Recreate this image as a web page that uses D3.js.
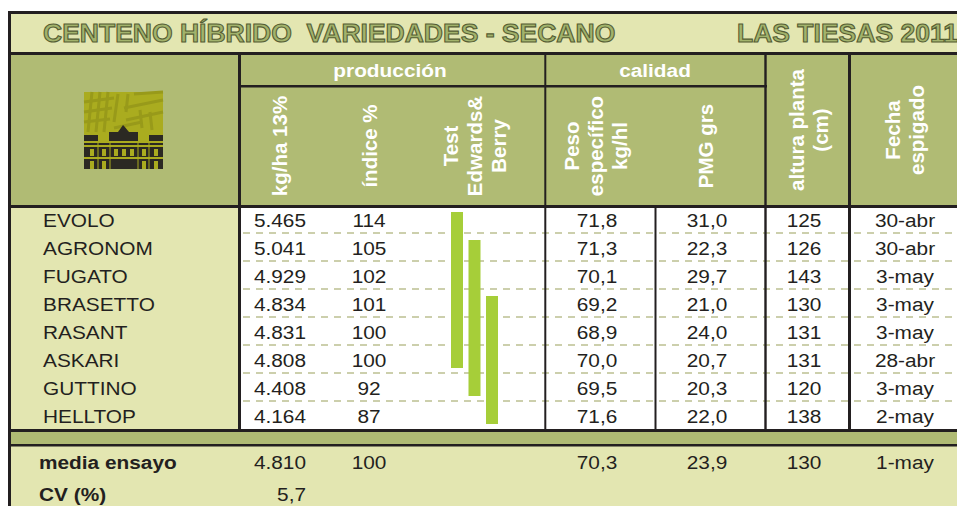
<!DOCTYPE html>
<html>
<head>
<meta charset="utf-8">
<script src="https://cdn.jsdelivr.net/npm/d3@7"></script>
<style>
  body { margin: 0; background: #ffffff; }
  text { font-family: "Liberation Sans", Arial, sans-serif; }
</style>
</head>
<body>
<div id="tabla"></div>
<script>
var width = 957;
var height = 506;

// datos del ensayo
var variedades = ["EVOLO", "AGRONOM", "FUGATO", "BRASETTO", "RASANT", "ASKARI", "GUTTINO", "HELLTOP"];
var kgha     = [5465, 5041, 4929, 4834, 4831, 4808, 4408, 4164];
var indice   = [114, 105, 102, 101, 100, 100, 92, 87];
var grupos   = ["a", "ab", "ab", "abc", "abc", "abc", "bc", "c"];   // test Edwards & Berry
var peso     = [71.8, 71.3, 70.1, 69.2, 68.9, 70.0, 69.5, 71.6];
var pmg      = [31.0, 22.3, 29.7, 21.0, 24.0, 20.7, 20.3, 22.0];
var altura   = [125, 126, 143, 130, 131, 131, 120, 138];
var fecha    = ["30-abr", "30-abr", "3-may", "3-may", "3-may", "28-abr", "3-may", "2-may"];
var letras   = ["a", "b", "c"];
var mediaEnsayo = [4810, 100, 70.3, 23.9, 130, "1-may"];
var cv = 5.7;

var es = d3.formatLocale({decimal: ",", thousands: ".", grouping: [3], currency: ["", "€"]});
var fMil = es.format(",d");
var fDec = es.format(".1f");

var svg = d3.select("#tabla")
  .append("svg")
    .attr("width", width)
    .attr("height", height);

var oscuro = "#231f20";
var crema = "#e3e6b1";
var oliva = "#b0bb74";

// filas
var y = d3.scaleBand().domain(d3.range(variedades.length)).range([205, 429]);
var xGrupo = d3.scaleBand().domain(letras).range([451, 503.5]);

var SX = 1.12; // el texto original viene algo estirado

// fondos
svg.append("rect").attr("x", 11).attr("y", 14).attr("width", 946).attr("height", 38).attr("fill", crema);
svg.append("rect").attr("x", 11).attr("y", 55).attr("width", 946).attr("height", 150).attr("fill", oliva);
svg.append("rect").attr("x", 11).attr("y", 208).attr("width", 227).attr("height", 221).attr("fill", crema);
svg.append("rect").attr("x", 11).attr("y", 432).attr("width", 946).attr("height", 12).attr("fill", oliva);
svg.append("rect").attr("x", 11).attr("y", 446).attr("width", 946).attr("height", 60).attr("fill", crema);

// lineas discontinuas entre filas
svg.selectAll("line.dash")
  .data(d3.range(variedades.length - 1))
  .enter()
  .append("line")
    .attr("x1", 243).attr("x2", width)
    .attr("y1", function(d) { return y(d) + y.bandwidth(); })
    .attr("y2", function(d) { return y(d) + y.bandwidth(); })
    .attr("stroke", "#bcc091")
    .attr("stroke-width", 1.6)
    .attr("stroke-dasharray", "7,6");

// barras del test Edwards & Berry
var tramos = letras.map(function(l) {
  var filas = d3.range(grupos.length).filter(function(i) { return grupos[i].indexOf(l) >= 0; });
  return {letra: l, ini: d3.min(filas), fin: d3.max(filas)};
});
svg.selectAll("rect.grupo")
  .data(tramos)
  .enter()
  .append("rect")
    .attr("x", function(d) { return xGrupo(d.letra); })
    .attr("y", function(d) { return y(d.ini) + 7; })
    .attr("width", 12)
    .attr("height", function(d) { return y(d.fin) + y.bandwidth() - 5 - (y(d.ini) + 7); })
    .attr("fill", "#a6ce39");

// marco y lineas
function linea(x1, y1, x2, y2, w) {
  svg.append("line").attr("x1", x1).attr("y1", y1).attr("x2", x2).attr("y2", y2)
    .attr("stroke", oscuro).attr("stroke-width", w);
}
linea(8, 12.5, width, 12.5, 3);
linea(9.5, 11, 9.5, height, 3);
linea(8, 53.5, width, 53.5, 3);
linea(8, 206.5, width, 206.5, 3);
linea(8, 430.5, width, 430.5, 3);
linea(8, 445.3, width, 445.3, 2.6);
linea(239.5, 52, 239.5, 432, 3);
linea(545.3, 55, 545.3, 430, 2);
linea(655.5, 207, 655.5, 430, 2);
linea(765.5, 55, 765.5, 430, 2.4);
linea(849.5, 52, 849.5, 432, 3);
linea(241, 86.2, 767, 86.2, 2.6);

// titulo
svg.append("text")
  .attr("x", 43).attr("y", 42)
  .style("white-space", "pre")
  .attr("font-size", 26.5).attr("font-weight", "bold")
  .attr("fill", "#a2b36c").attr("stroke", "#555d33").attr("stroke-width", 1.1)
  .text("CENTENO HÍBRIDO  VARIEDADES - SECANO");
svg.append("text")
  .attr("x", 737).attr("y", 42)
  .attr("font-size", 26.5).attr("font-weight", "bold")
  .attr("fill", "#a2b36c").attr("stroke", "#555d33").attr("stroke-width", 1.1)
  .text("LAS TIESAS 2011");

// logo (aproximado)
var logo = svg.append("g").attr("transform", "translate(84,92)");
logo.append("rect").attr("width", 79).attr("height", 77).attr("fill", "#aaac1f");
var rayas = [[8, 0, 4, 40], [16, 0, 12, 40], [24, 0, 20, 40], [34, 2, 30, 30], [44, 2, 42, 20],
             [0, 10, 30, 6], [0, 20, 28, 16], [0, 30, 26, 27], [40, 16, 79, 8], [42, 28, 79, 20],
             [50, 2, 79, 0], [58, 36, 56, 18], [68, 38, 66, 20], [30, 36, 58, 30]];
logo.selectAll("line").data(rayas).enter().append("line")
  .attr("x1", function(d) { return d[0]; }).attr("y1", function(d) { return d[1]; })
  .attr("x2", function(d) { return d[2]; }).attr("y2", function(d) { return d[3]; })
  .attr("stroke", "#989a1a").attr("stroke-width", 3);
var edif = "#2b2923";
logo.append("rect").attr("x", 0).attr("y", 43).attr("width", 14).attr("height", 6).attr("fill", edif);
logo.append("rect").attr("x", 65).attr("y", 43).attr("width", 14).attr("height", 6).attr("fill", edif);
logo.append("rect").attr("x", 25).attr("y", 40).attr("width", 29).attr("height", 9).attr("fill", edif);
logo.append("path").attr("d", "M34,40 L39,33 L40,34 L45,40 Z").attr("fill", edif);
logo.append("rect").attr("x", 0).attr("y", 51).attr("width", 79).attr("height", 2).attr("fill", edif);
logo.append("rect").attr("x", 0).attr("y", 55).attr("width", 79).attr("height", 10).attr("fill", edif);
logo.append("rect").attr("x", 0).attr("y", 67).attr("width", 79).attr("height", 10).attr("fill", edif);
logo.selectAll("rect.ventana").data([6, 18, 30, 38, 46, 58, 70]).enter().append("rect")
  .attr("x", function(d) { return d; }).attr("y", 57).attr("width", 4).attr("height", 7).attr("fill", "#aaac1f");
logo.selectAll("rect.ventana2").data([6, 18, 58, 70]).enter().append("rect")
  .attr("x", function(d) { return d; }).attr("y", 69).attr("width", 4).attr("height", 8).attr("fill", "#aaac1f");
logo.selectAll("line.col").data([14, 26, 54, 65]).enter().append("line")
  .attr("x1", function(d) { return d; }).attr("x2", function(d) { return d; })
  .attr("y1", 49).attr("y2", 77).attr("stroke", "#aaac1f").attr("stroke-width", 1);

// cabecera: grupos
function textoH(x, yy, txt, opts) {
  opts = opts || {};
  return svg.append("text")
    .attr("transform", "translate(" + x + "," + yy + ") scale(" + SX + ",1)")
    .attr("text-anchor", opts.anchor || "start")
    .attr("font-size", opts.size || 18.6)
    .attr("font-weight", opts.bold ? "bold" : "normal")
    .attr("fill", opts.color || oscuro)
    .text(txt);
}
textoH(390, 77, "producción", {anchor: "middle", bold: true, color: "#ffffff"});
textoH(655, 77, "calidad", {anchor: "middle", bold: true, color: "#ffffff"});

// cabecera: columnas en vertical
var cabeceras = [
  {x: 279, cy: 146, lineas: ["kg/ha 13%"]},
  {x: 369, cy: 146, lineas: ["índice %"]},
  {x: 474, cy: 146, lineas: ["Test", "Edwards&", "Berry"]},
  {x: 595, cy: 146, lineas: ["Peso", "específico", "kg/hl"]},
  {x: 705, cy: 146, lineas: ["PMG grs"]},
  {x: 808, cy: 130, lineas: ["altura planta", "(cm)"]},
  {x: 904, cy: 130, lineas: ["Fecha", "espigado"]}
];
var interlinea = 24;
cabeceras.forEach(function(c) {
  var n = c.lineas.length;
  c.lineas.forEach(function(t, i) {
    var lx = c.x + (i - (n - 1) / 2) * interlinea;
    svg.append("text")
      .attr("transform", "translate(" + lx + "," + c.cy + ") rotate(-90)")
      .attr("text-anchor", "middle")
      .attr("dominant-baseline", "central")
      .attr("font-size", 20.5)
      .attr("font-weight", "bold")
      .attr("fill", "#ffffff")
      .text(t);
  });
});

// cuerpo de la tabla
var base = 22;
variedades.forEach(function(v, i) {
  var yy = y(i) + base;
  textoH(43, yy, v);
  textoH(306, yy, fMil(kgha[i]), {anchor: "end"});
  textoH(369, yy, indice[i], {anchor: "middle"});
  textoH(597, yy, fDec(peso[i]), {anchor: "middle"});
  textoH(707, yy, fDec(pmg[i]), {anchor: "middle"});
  textoH(804, yy, altura[i], {anchor: "middle"});
  textoH(905, yy, fecha[i], {anchor: "middle"});
});

// media y CV
textoH(39, 469, "media ensayo", {bold: true});
textoH(306, 469, fMil(mediaEnsayo[0]), {anchor: "end"});
textoH(369, 469, mediaEnsayo[1], {anchor: "middle"});
textoH(597, 469, fDec(mediaEnsayo[2]), {anchor: "middle"});
textoH(707, 469, fDec(mediaEnsayo[3]), {anchor: "middle"});
textoH(804, 469, mediaEnsayo[4], {anchor: "middle"});
textoH(905, 469, mediaEnsayo[5], {anchor: "middle"});
textoH(39, 501, "CV (%)", {bold: true});
textoH(306, 501, fDec(cv), {anchor: "end"});
</script>
</body>
</html>
